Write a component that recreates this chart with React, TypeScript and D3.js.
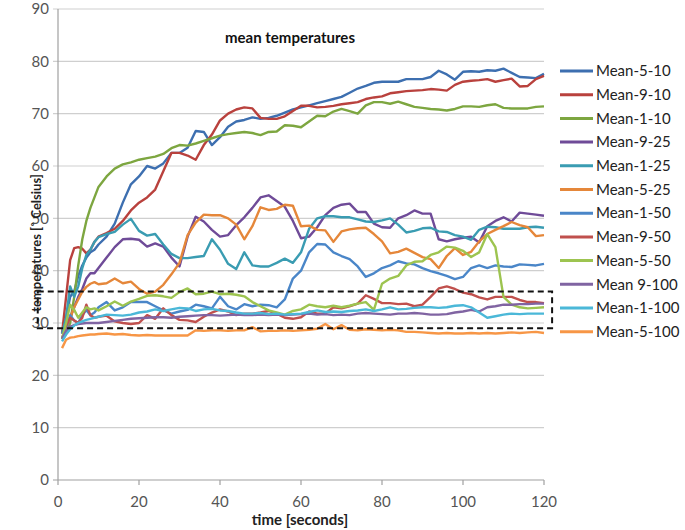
import React from "react";
import * as d3 from "d3";

const times = [1,2,3,4,5,6,7,8,9,10,12,14,16,18,20,22,24,26,28,30,32,34,36,38,40,42,44,46,48,50,52,54,56,58,60,62,64,66,68,70,72,74,76,78,80,82,84,86,88,90,92,94,96,98,100,102,104,106,108,110,112,114,116,118,120];

const seriesNames = ["Mean-5-10","Mean-9-10","Mean-1-10","Mean-9-25","Mean-1-25","Mean-5-25","Mean-1-50","Mean-9-50","Mean-5-50","Mean 9-100","Mean-1-100","Mean-5-100"];
const seriesColors = ["#3d6fb0","#b9413d","#7da640","#6f4b98","#3a9cb2","#e5873a","#4a86c8","#c0504d","#9dc450","#8064a2","#4bb8d8","#f79646"];

const mean5_10 = [28,31,35,36,39,41,42.5,43.5,44,45, 46.5,49,53,56.5,58,60,59.5,60.5,62.5,62.5, 63.5,66.7,66.5,64,65.5,67.5,68.5,68.8,69.3,69, 69.2,69.6,70.2,70.8,71.2,71.6,72,72.4,72.8,73.2, 74,74.8,75.3,75.9,76.1,76.1,76.1,76.6,76.6,76.6, 77,78.2,77.5,76.5,78,78.1,78,78.3,78.2,78.6, 77.8,77,76.9,76.8,77.6];
const mean9_10 = [28,35,42,44.3,44.5,44.2,43.3,44,45.5,46.5, 47.2,48,49.5,51.5,53,54,55.5,59,62.5,62.5, 62,61.2,64,66,68.7,70,70.8,71.2,71,69.2, 69,69,69.5,70.5,71.5,71.5,71.2,71.3,71.5,71.8, 72,72.2,72.8,73.1,73.3,73.9,74.1,74.3,74.4,74.5, 74.7,74.6,74.4,75.5,76.1,76.3,76.4,76.6,76.1,76.4, 76.7,75.2,75.3,76.6,77.2];
const mean1_10 = [27,28,30,35,41,46,49.5,52,54,56, 58,59.5,60.3,60.7,61.2,61.5,61.8,62.3,63.4,64, 63.9,64.3,64.8,65.3,65.8,66.1,66.3,66.5,66.3,65.9, 66.5,66.6,67.8,67.7,67.4,68.5,69.6,69.5,70.4,70.9, 70.5,70,71.6,72.2,72.2,71.9,72.3,71.8,71.3,71.1, 70.9,70.8,70.6,70.9,71.4,71.4,71.3,71.6,71.8,71.1, 71,71,71,71.3,71.4];
const mean9_25 = [28,29,31,33,35,36.5,38.5,39.5,39.5,40.5, 42.5,44.5,46,46.1,45.9,44.6,45.2,44.6,42.5,40.8, 46.5,50.3,49.4,47.8,46.5,46.8,48.7,50.2,52,54, 54.4,53.3,52.2,49.5,46.2,46.5,48.3,50.6,52,52.6, 52.8,51.2,51.2,49,48.3,48.2,50,50.6,51.5,50.9, 50.9,46,45.6,46,46.3,46.5,45.4,48.5,49.5,50.2, 49.4,51.1,50.9,50.7,50.5];
const mean1_25 = [28,31,37,35,37,40.5,43,44,45.5,46.4, 47,47.4,48.8,49.9,47.6,46.7,47,45,43.2,42.4, 42.4,42.6,42.8,46,44,41.3,40.3,43.5,41,40.8, 40.8,41.5,42.3,41.5,43.5,48,50,50.4,50.4,50.2, 50.2,49.8,49.4,49.3,49.6,50,48.8,47.3,47.6,48.1, 48.2,47.5,47.4,46.8,46.5,45.9,47.8,48.4,48.3,48, 48,48,48.3,48.4,48.2];
const mean5_25 = [27,29,31,33,34.5,36,36.9,37.5,37.8,37.4, 37.6,38.5,37.6,37.9,36.5,35.6,36,37.3,39.3,41.5, 46.8,49.2,50.7,50.6,50.6,50,48.8,46,48.5,52.1, 51.6,51.8,52.6,52.4,48.5,48.6,47.8,47.7,45.5,47.5, 47.9,48.1,48.2,47,45.6,43.3,43.6,44.2,43.4,42.6, 42.2,40.5,42.8,44.3,43,43.6,45.6,47,47.8,48.5, 49.3,48.7,48.3,46.6,46.8];
const mean1_50 = [27,29,31.5,30.5,30,31.5,32.5,31.5,32,33, 34,32.4,33,34,34,34,33.2,32.4,31.8,32.2, 32.5,33.5,33.2,32.8,35,33.2,32.6,33.6,33.2,33.5, 33.4,33,34.5,38.5,40,43.5,45.1,45,43.5,42.8, 42.2,40.8,38.8,39.5,40.5,41,41.8,41.4,41.2,40.5, 39.9,39.5,39,38.4,38.8,40.5,41,40.5,41,40.8, 40.7,41.2,41.1,41,41.3];
const mean9_50 = [27,29.5,31,30.5,30,31,33.5,31.5,31,31.2, 31.4,30.3,30,29.8,30,31.5,30.8,32.8,31.5,30.6, 30.5,30.2,31.2,32,32.6,32.2,31.5,31.8,31.8,32, 32.3,31.8,31,30.8,31.1,32.2,31.8,31.8,33,32.8, 33.2,33.7,35.3,34.6,33.8,33.8,33.6,33.7,33.2,33.5, 35,36.6,37,36.5,35.8,35.5,34.9,34.5,35,35, 35,34.4,34,34,33.8];
const mean5_50 = [27,30,33.5,32.5,31,32,33,32.6,32.8,32.4, 33.2,34.1,33.3,34.1,34.6,35.2,35.3,35.1,34.8,35.9, 36.6,35.5,35.6,36,35.5,35.6,35.4,35.1,34,33.2, 32.4,32,31.6,32.3,32.6,33.5,33.2,33,33.3,33, 33.3,33.7,34,32.5,37.5,38.5,39,41,41.7,41.8, 43,43.5,44.6,44.4,43.8,42.6,43.5,47,44.5,35, 33.5,33,32.8,32.9,33];
const mean9_100 = [27,28.5,29.3,29.6,29.8,29.9,30,30,30,30, 30.2,30.4,30.6,30.8,30.9,31,31.1,31.1,31,31.2, 31.3,31.4,31.5,31.5,31.4,31.5,31.6,31.5,31.5,31.6, 31.5,31.6,31.5,31.6,31.7,31.8,31.6,31.7,31.5,31.6, 31.5,31.8,31.9,31.8,31.7,31.6,31.8,31.8,31.9,31.8, 31.6,31.6,31.7,32,32.2,32.5,32.2,33,33.2,33.5, 33.5,33.6,33.6,33.7,33.7];
const mean1_100 = [26.5,27.8,28.8,29.5,30,30.3,30.6,30.8,31,31.2, 31.6,31.5,31.4,31.6,32,32.2,32.6,32.3,32.6,32.9, 32.8,32.3,32.6,32.7,32.4,32.3,32,31.8,31.8,31.9, 31.7,31.8,31.6,31.7,31.8,32.1,32.4,32.1,32.2,32.1, 32.3,32.4,32.6,32.3,32.6,33,32.6,32.7,32.9,33, 33,32.9,33,33.3,33.4,33,32,31,31.3,31.6, 31.8,31.7,31.8,31.8,31.8];
const mean5_100 = [25.2,26.8,27.2,27.3,27.5,27.6,27.7,27.8,27.8,27.9, 28,27.8,27.9,27.7,27.6,27.7,27.6,27.6,27.6,27.6, 27.6,28.6,28.5,28.6,28.6,28.5,28.6,28.6,29.2,28.4, 28.5,28.5,28.6,28.5,28.6,28.7,28.9,29.8,28.8,29.6, 28.7,28.6,28.8,28.7,28.6,28.7,28.6,28.3,28.3,28.2, 28.1,28,28.1,28,28,28.1,28,28.1,28,28.1, 28.2,28.1,28.2,28.3,28.1];

const seriesValues = [mean5_10, mean9_10, mean1_10, mean9_25, mean1_25, mean5_25, mean1_50, mean9_50, mean5_50, mean9_100, mean1_100, mean5_100];

const yTicks = [0,10,20,30,40,50,60,70,80,90];
const xTicks = [0,20,40,60,80,100,120];
const boxRange = { t0: -5, t1: 122, v0: 29, v1: 36 };

export default function App() {
  const W = 685, H = 530;
  const x = d3.scaleLinear().domain([0, 120]).range([58, 544]);
  const y = d3.scaleLinear().domain([0, 90]).range([480, 9]);
  const line = d3.line<number>().x((_, i) => x(times[i])).y((d) => y(d));
  const font = "Lato, 'Open Sans', sans-serif";
  const legendY = (i: number) => 71 + i * 23.7;

  return (
    <svg width={W} height={H} style={{ position: "absolute", left: 0, top: 0, background: "#fff" }} fontFamily={font}>
      {yTicks.filter((t) => t > 0).map((t) => (
        <line key={"g" + t} x1={x(0) - 5} x2={x(120)} y1={y(t)} y2={y(t)} stroke="#cfcfcf" strokeWidth={1.2} />
      ))}
      <line x1={x(0)} x2={x(0)} y1={y(90)} y2={y(0)} stroke="#a0a0a0" strokeWidth={1.2} />
      <line x1={x(0) - 5} x2={x(120)} y1={y(0)} y2={y(0)} stroke="#a0a0a0" strokeWidth={1.2} />
      {xTicks.map((t) => (
        <line key={"xt" + t} x1={x(t)} x2={x(t)} y1={y(0)} y2={y(0) + 5} stroke="#a0a0a0" strokeWidth={1.2} />
      ))}
      {yTicks.map((t) => (
        <text key={"yl" + t} x={49} y={y(t)} dy="0.35em" textAnchor="end" fontSize={15} fill="#555">{t}</text>
      ))}
      {xTicks.map((t) => (
        <text key={"xl" + t} x={x(t)} y={507} textAnchor="middle" fontSize={15} fill="#555">{t}</text>
      ))}
      {seriesValues.map((vals, i) => (
        <path key={"s" + i} d={line(vals) || ""} fill="none" stroke={seriesColors[i]} strokeWidth={2.4} strokeLinejoin="round" />
      ))}
      <rect x={x(boxRange.t0)} y={y(boxRange.v1)} width={x(boxRange.t1) - x(boxRange.t0)} height={y(boxRange.v0) - y(boxRange.v1)}
        fill="none" stroke="#111" strokeWidth={2} strokeDasharray="6,4" />
      <text x={290} y={43} textAnchor="middle" fontSize={15} fontWeight="bold" fill="#111">mean temperatures</text>
      <text x={300} y={525} textAnchor="middle" fontSize={15} fontWeight="bold" fill="#222">time [seconds]</text>
      <text transform="translate(41,243) rotate(-90)" textAnchor="middle" fontSize={13} fontWeight="bold" fill="#222">temperatures [˚ Celsius]</text>
      {seriesNames.map((n, i) => (
        <g key={"lg" + i}>
          <line x1={560} x2={593} y1={legendY(i)} y2={legendY(i)} stroke={seriesColors[i]} strokeWidth={3} />
          <text x={596} y={legendY(i)} dy="0.35em" fontSize={15} fill="#222">{n}</text>
        </g>
      ))}
    </svg>
  );
}
